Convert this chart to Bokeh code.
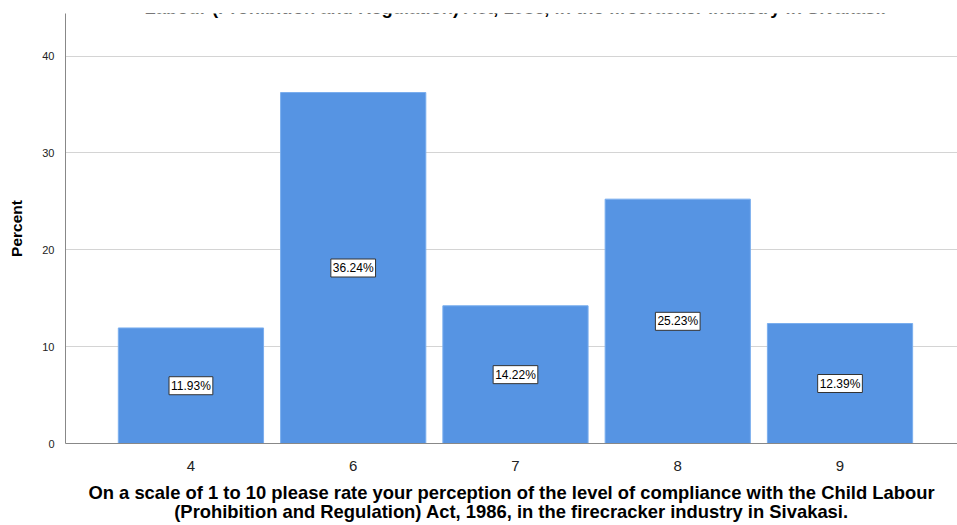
from bokeh.plotting import figure
from bokeh.models import ColumnDataSource, Range1d, Label, FixedTicker
from bokeh.embed import file_html
from bokeh.resources import INLINE

categories = ["4", "6", "7", "8", "9"]
percents = [11.93, 36.24, 14.22, 25.23, 12.39]
y_ticks = [0, 10, 20, 30, 40]
x_title = ("On a scale of 1 to 10 please rate your perception of the level of compliance with the Child Labour\n"
           "(Prohibition and Regulation) Act, 1986, in the firecracker industry in Sivakasi.")
top_title = "Labour (Prohibition and Regulation) Act, 1986, in the firecracker industry in Sivakasi."

positions = list(range(len(categories)))
src = ColumnDataSource(dict(pos=positions, pct=percents))

p = figure(width=957, height=525, output_backend="svg", toolbar_location=None,
           x_range=Range1d(-0.773, 4.724),
           y_range=Range1d(0, 44.4),
           min_border_left=65, min_border_right=0, min_border_top=13, min_border_bottom=82)
p.outline_line_color = None
p.background_fill_color = "white"

p.vbar(x="pos", top="pct", width=0.895, source=src,
       fill_color="#5694e3", line_color="#7aaeee", line_width=1)

for i, v in zip(positions, percents):
    p.add_layout(Label(x=i, y=v / 2, text=f"{v:.2f}%",
                       text_align="center", text_baseline="middle",
                       text_font="Liberation Sans", text_font_size="12px", text_color="black",
                       background_fill_color="white", border_line_color="#333333",
                       border_line_width=1, padding=2))

p.add_layout(Label(x=(positions[0] + positions[-1]) / 2, y=45.02, text=top_title,
                   text_align="center", text_baseline="alphabetic",
                   text_font="Liberation Sans",
                   text_font_style="bold", text_font_size="18.4px", text_color="black"))

p.xgrid.grid_line_color = None
p.ygrid.grid_line_color = "#d4d4d4"
p.ygrid.grid_line_width = 1
p.yaxis.ticker = FixedTicker(ticks=y_ticks)
p.xaxis.ticker = FixedTicker(ticks=positions)
p.xaxis.major_label_overrides = {i: c for i, c in zip(positions, categories)}

for ax in (p.xaxis[0], p.yaxis[0]):
    ax.axis_line_color = "#888888"
    ax.major_tick_line_color = None
    ax.minor_tick_line_color = None
    ax.major_label_text_font = "Liberation Sans"
    ax.axis_label_text_font = "Liberation Sans"
    ax.axis_label_text_font_style = "bold"
    ax.axis_label_text_color = "black"
    ax.major_label_text_color = "#222222"

p.yaxis.major_label_text_font_size = "11px"
p.yaxis.axis_label = "Percent"
p.yaxis.axis_label_text_font_size = "15.5px"
p.yaxis.axis_label_standoff = 14
p.xaxis.major_label_text_font_size = "15px"
p.xaxis.major_label_standoff = 11
p.xaxis.axis_label = x_title
p.xaxis.axis_label_text_font_size = "18.4px"
p.xaxis.axis_label_standoff = 8
p.xaxis.axis_label_text_line_height = 0.95

open("out.html", "w").write(file_html(p, INLINE))
